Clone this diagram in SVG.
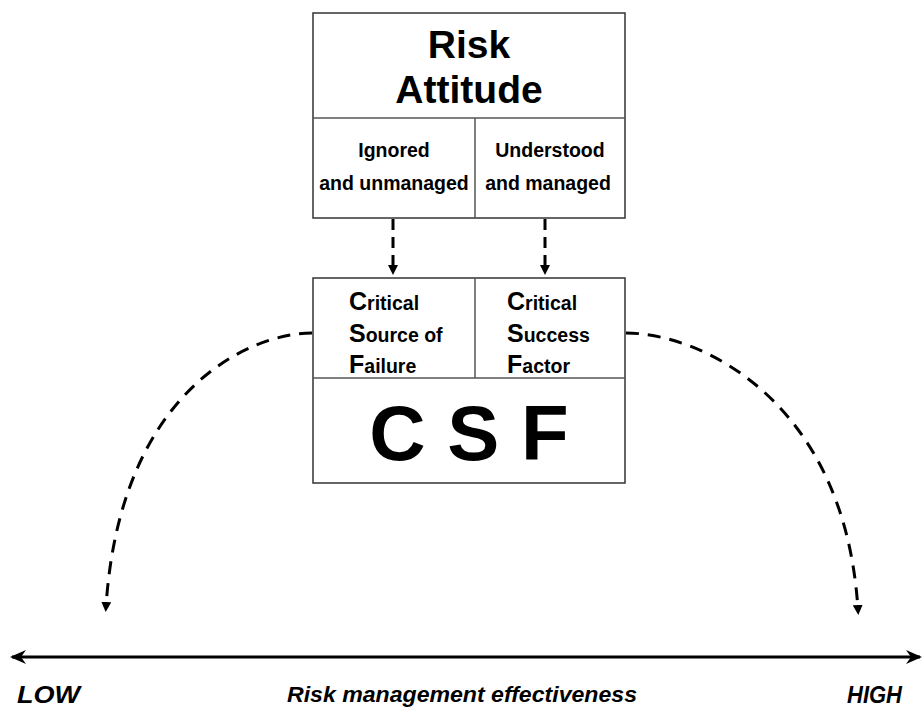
<svg xmlns="http://www.w3.org/2000/svg" width="924" height="709" viewBox="0 0 924 709">
<style>
.box{fill:#fff;stroke:#333;stroke-width:1.5}
.div{stroke:#555;stroke-width:1.5;fill:none}
.t{font-family:"Liberation Sans",Arial,sans-serif;font-weight:bold;fill:#000}
.dash{fill:none;stroke:#000;stroke-width:3}
.vd{stroke-dasharray:11 7}
.cd{stroke-dasharray:13 9}
</style>
<defs>
<marker id="tri" viewBox="0 0 10 10" refX="5" refY="5" markerWidth="10" markerHeight="10" markerUnits="userSpaceOnUse" orient="auto">
<path d="M0,0 L10,5 L0,10 Z" fill="#000"/>
</marker>
<marker id="stealth" viewBox="0 0 16 14" refX="14" refY="7" markerWidth="16" markerHeight="14" markerUnits="userSpaceOnUse" orient="auto-start-reverse">
<path d="M0,0 L16,7 L0,14 L5,7 Z" fill="#000"/>
</marker>
</defs>
<rect width="924" height="709" fill="#fff"/>
<g id="connectors">
<line class="dash vd" x1="393" y1="219" x2="393" y2="270" marker-end="url(#tri)"/>
<line class="dash vd" x1="545" y1="219" x2="545" y2="270" marker-end="url(#tri)"/>
<path class="dash cd" d="M312,333 C250,333 120,390 106,607" marker-end="url(#tri)"/>
<path class="dash cd" d="M626,333 C700,333 845,400 858,610" marker-end="url(#tri)"/>
<line x1="12" y1="657" x2="920" y2="657" stroke="#000" stroke-width="3" marker-start="url(#stealth)" marker-end="url(#stealth)"/>
</g>
<g id="risk-attitude">
<rect class="box" x="313" y="13" width="312" height="205"/>
<line class="div" x1="313" y1="118" x2="625" y2="118"/>
<line class="div" x1="475" y1="118" x2="475" y2="218"/>
<text class="t" x="469" y="58" font-size="39" text-anchor="middle">Risk</text>
<text class="t" x="469" y="103" font-size="39" text-anchor="middle">Attitude</text>
<text class="t" x="394" y="157" font-size="19.5" text-anchor="middle">Ignored</text>
<text class="t" x="394" y="190" font-size="19.5" text-anchor="middle">and unmanaged</text>
<text class="t" x="550" y="157" font-size="19.5" text-anchor="middle">Understood</text>
<text class="t" x="548" y="190" font-size="19.5" text-anchor="middle">and managed</text>
</g>
<g id="csf">
<rect class="box" x="313" y="278" width="312" height="205"/>
<line class="div" x1="313" y1="378" x2="625" y2="378"/>
<line class="div" x1="475" y1="278" x2="475" y2="378"/>
<text class="t" x="349" y="310" font-size="19.5"><tspan font-size="25">C</tspan>ritical</text>
<text class="t" x="349" y="342" font-size="19.5"><tspan font-size="25">S</tspan>ource of</text>
<text class="t" x="349" y="373" font-size="19.5"><tspan font-size="25">F</tspan>ailure</text>
<text class="t" x="507" y="310" font-size="19.5"><tspan font-size="25">C</tspan>ritical</text>
<text class="t" x="507" y="342" font-size="19.5"><tspan font-size="25">S</tspan>uccess</text>
<text class="t" x="507" y="373" font-size="19.5"><tspan font-size="25">F</tspan>actor</text>
<text class="t" x="469" y="460" font-size="78" text-anchor="middle">C S F</text>
</g>
<g id="axis-labels">
<text class="t" x="17" y="703" font-size="23" font-style="italic" textLength="63" lengthAdjust="spacingAndGlyphs">LOW</text>
<text class="t" x="287" y="702" font-size="22" font-style="italic" textLength="350" lengthAdjust="spacingAndGlyphs">Risk management effectiveness</text>
<text class="t" x="847" y="703" font-size="23" font-style="italic" textLength="55" lengthAdjust="spacingAndGlyphs">HIGH</text>
</g>
</svg>
